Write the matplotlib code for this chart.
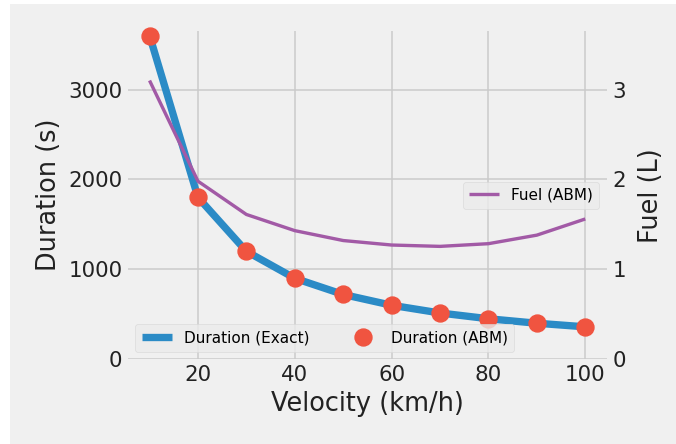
import matplotlib
matplotlib.use("Agg")
import matplotlib.pyplot as plt
from matplotlib.patches import Rectangle

# values
velocity = [10, 20, 30, 40, 50, 60, 70, 80, 90, 100]
duration_exact = [3600, 1800, 1200, 900, 720, 600, 514, 450, 400, 360]
duration_abm = [3600, 1800, 1200, 900, 720, 600, 514, 450, 400, 360]
fuel_abm = [3.10, 1.98, 1.61, 1.43, 1.32, 1.27, 1.255, 1.285, 1.38, 1.56]

BLUE = "#2b8bc6"
RED = "#f05440"
PURPLE = "#a25aa6"
BG = "#f0f0f0"

plt.style.use("fivethirtyeight")

DPI = 110
fig = plt.figure(figsize=(676 / DPI, 444 / DPI), dpi=DPI, facecolor="white")
# grey canvas with a thin white strip on the left / top like the reference
fig.patches.append(Rectangle((10 / 676, 0), 1, 1 - 4 / 444,
                             transform=fig.transFigure, facecolor=BG,
                             edgecolor="none", zorder=-10))

ax = fig.add_axes([0.189, 0.191, 0.709, 0.739])
ax.set_facecolor(BG)

ax.plot(velocity, duration_exact, color=BLUE, linewidth=4.8,
        label="Duration (Exact)", zorder=3)
ax.plot(velocity, duration_abm, "o", color=RED, markersize=11,
        label="Duration (ABM)", zorder=4, clip_on=False)

ax.set_xlim(5.5, 104.5)
ax.set_ylim(0, 3650)
ax.set_yticks([0, 1000, 2000, 3000])
ax.set_xticks([20, 40, 60, 80, 100])
ax.set_xlabel("Velocity (km/h)", fontsize=16.8, color="#222222")
ax.set_ylabel("Duration (s)", fontsize=16.8, color="#222222")
ax.tick_params(labelsize=14, colors="#222222")
ax.grid(True, color="#cbcbcb", linewidth=1.0)
ax.legend(loc="lower left", ncol=2, fontsize=10, columnspacing=2.5,
          facecolor="#ebebeb", edgecolor="#d8d8d8", framealpha=0.8)

ax2 = ax.twinx()
ax2.plot(velocity, fuel_abm, color=PURPLE, linewidth=2.2, label="Fuel (ABM)")
ax2.set_ylim(0, 3.65)
ax2.set_yticks([0, 1, 2, 3])
ax2.grid(False)
ax2.set_ylabel("Fuel (L)", fontsize=16.8, color="#222222", labelpad=8)
ax2.tick_params(labelsize=14, colors="#222222")
ax2.legend(loc="center right", fontsize=10,
           facecolor="#ebebeb", edgecolor="#d8d8d8", framealpha=0.8)

for a in (ax, ax2):
    for s in a.spines.values():
        s.set_visible(False)

fig.savefig("out.png", dpi=DPI, facecolor=fig.get_facecolor())
